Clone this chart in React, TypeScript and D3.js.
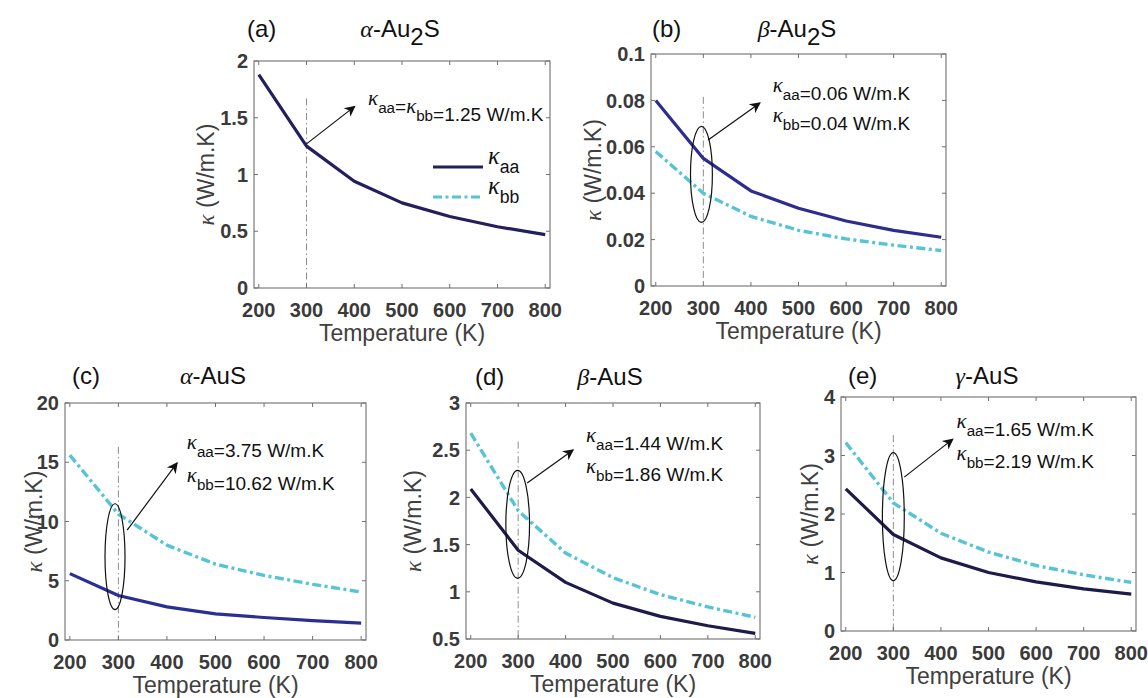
import React from "react";
import * as d3 from "d3";

// temperatures (K) shared by all panels
const temperature = [200, 300, 400, 500, 600, 700, 800];

// kappa values, W/m.K
const alphaAu2S_aa = [1.88, 1.25, 0.94, 0.75, 0.63, 0.54, 0.47];
const betaAu2S_aa = [0.08, 0.055, 0.041, 0.0335, 0.028, 0.024, 0.021];
const betaAu2S_bb = [0.058, 0.04, 0.03, 0.024, 0.0203, 0.0176, 0.0153];
const alphaAuS_aa = [5.6, 3.75, 2.8, 2.2, 1.9, 1.63, 1.42];
const alphaAuS_bb = [15.6, 10.62, 8.0, 6.4, 5.45, 4.7, 4.05];
const betaAuS_aa = [2.09, 1.44, 1.1, 0.88, 0.74, 0.64, 0.56];
const betaAuS_bb = [2.68, 1.86, 1.41, 1.15, 0.97, 0.84, 0.73];
const gammaAuS_aa = [2.43, 1.65, 1.25, 1.0, 0.84, 0.72, 0.63];
const gammaAuS_bb = [3.22, 2.19, 1.67, 1.35, 1.12, 0.96, 0.83];

// axis ticks
const xTicks = [200, 300, 400, 500, 600, 700, 800];
const yTicksA = [0, 0.5, 1, 1.5, 2];
const yTicksB = [0, 0.02, 0.04, 0.06, 0.08, 0.1];
const yTicksC = [0, 5, 10, 15, 20];
const yTicksD = [0.5, 1, 1.5, 2, 2.5, 3];
const yTicksE = [0, 1, 2, 3, 4];

const SANS = "'Liberation Sans', Arial, Helvetica, sans-serif";
const SERIF = "'Liberation Serif', 'Times New Roman', serif";
const CYAN = "#55c4d6";
const FRAME = "#707070";

const panels = [
  {
    tag: "(a)", greek: "α", formula: "Au", sub: "2", tail: "S",
    box: { left: 254, top: 61, right: 550, bottom: 288 },
    yDomain: [0, 2], yTicks: yTicksA, yLabelOff: 48,
    aa: alphaAu2S_aa, bb: null, aaColor: "#231f5c",
    tagX: 247, titleX: 400, titleY: 37,
    vline: 1.67, ellipse: null,
    arrow: [[300, 1.27], [401, 1.6]],
    note: { x: 429, y1: 1.612, y2: null, aa: "=", bb: "=1.25 W/m.K", same: true },
    legend: true,
  },
  {
    tag: "(b)", greek: "β", formula: "Au", sub: "2", tail: "S",
    box: { left: 651, top: 54, right: 946, bottom: 286 },
    yDomain: [0, 0.1], yTicks: yTicksB, yLabelOff: 58,
    aa: betaAu2S_aa, bb: betaAu2S_bb, aaColor: "#2c2d8f",
    tagX: 652, titleX: 797, titleY: 37,
    vline: 0.0815, ellipse: { cx: 296, cy: 0.0481, rx: 23, ry: 0.0207 },
    arrow: [[310, 0.0629], [419, 0.0789]],
    note: { x: 446, y1: 0.0836, y2: 0.0707, aa: "=0.06 W/m.K", bb: "=0.04 W/m.K" },
  },
  {
    tag: "(c)", greek: "α", formula: "AuS", sub: "", tail: "",
    box: { left: 65, top: 403, right: 366, bottom: 640 },
    yDomain: [0, 20], yTicks: yTicksC, yLabelOff: 31,
    aa: alphaAuS_aa, bb: alphaAuS_bb, aaColor: "#2b2f93",
    tagX: 72, titleX: 213, titleY: 384,
    vline: 16.3, ellipse: { cx: 293, cy: 7.03, rx: 20.6, ry: 4.47 },
    arrow: [[318, 9.28], [421, 14.94]],
    note: { x: 441, y1: 16.1, y2: 13.3, aa: "=3.75 W/m.K", bb: "=10.62 W/m.K" },
  },
  {
    tag: "(d)", greek: "β", formula: "AuS", sub: "", tail: "",
    box: { left: 466, top: 403, right: 760, bottom: 639 },
    yDomain: [0.5, 3], yTicks: yTicksD, yLabelOff: 53,
    aa: betaAuS_aa, bb: betaAuS_bb, aaColor: "#1e1a4a",
    tagX: 475, titleX: 610, titleY: 385,
    vline: 2.59, ellipse: { cx: 299, cy: 1.715, rx: 25, ry: 0.572 },
    arrow: [[319, 2.153], [416, 2.502]],
    note: { x: 443, y1: 2.587, y2: 2.258, aa: "=1.44 W/m.K", bb: "=1.86 W/m.K" },
  },
  {
    tag: "(e)", greek: "γ", formula: "AuS", sub: "", tail: "",
    box: { left: 841, top: 397, right: 1136, bottom: 631 },
    yDomain: [0, 4], yTicks: yTicksE, yLabelOff: 31,
    aa: gammaAuS_aa, bb: gammaAuS_bb, aaColor: "#1e1a4a",
    tagX: 848, titleX: 987, titleY: 384,
    vline: 3.35, ellipse: { cx: 300, cy: 1.954, rx: 23, ry: 1.094 },
    arrow: [[323, 2.63], [425, 3.28]],
    note: { x: 433, y1: 3.47, y2: 2.92, aa: "=1.65 W/m.K", bb: "=2.19 W/m.K" },
  },
];

function Kappa({ sub, size = 19 }: { sub: string; size?: number }) {
  const drop = Math.round(size * 0.4);
  return (
    <>
      <tspan fontFamily={SERIF} fontStyle="italic" fontSize={size * 1.1}>κ</tspan>
      <tspan dy={drop} fontSize={size * 0.8}>{sub}</tspan>
      <tspan dy={-drop}></tspan>
    </>
  );
}

function Panel({ p }: { p: any }) {
  const { left, top, right, bottom } = p.box;
  const x = d3.scaleLinear().domain([190, 810]).range([left, right]);
  const y = d3.scaleLinear().domain(p.yDomain).range([bottom, top]);
  const line = d3
    .line<number>()
    .x((_, i) => x(temperature[i]))
    .y((d) => y(d));
  const fmt = (v: number) => String(+v.toFixed(3));
  const note = p.note;

  return (
    <g>
      {/* titles */}
      <text x={p.tagX} y={p.titleY} fontFamily={SANS} fontSize={24} fill="#111">
        {p.tag}
      </text>
      <text x={p.titleX} y={p.titleY} textAnchor="middle" fontFamily={SANS} fontSize={24} fill="#111">
        <tspan fontFamily={SERIF} fontStyle="italic">{p.greek}</tspan>
        <tspan>-{p.formula}</tspan>
        {p.sub && <tspan dy={8}>{p.sub}</tspan>}
        {p.tail && <tspan dy={-8}>{p.tail}</tspan>}
      </text>

      {/* reference line at 300 K */}
      <line
        x1={x(300)} x2={x(300)} y1={y(p.vline)} y2={bottom}
        stroke="#8c8c8c" strokeWidth={1} strokeDasharray="7,3,1.5,3"
      />

      {/* series */}
      {p.bb && (
        <path d={line(p.bb) || ""} fill="none" stroke={CYAN} strokeWidth={3.4}
          strokeDasharray="9,3.5,3,3.5" />
      )}
      <path d={line(p.aa) || ""} fill="none" stroke={p.aaColor} strokeWidth={3.2}
        strokeLinejoin="round" />

      {/* frame and ticks */}
      <rect x={left} y={top} width={right - left} height={bottom - top}
        fill="none" stroke={FRAME} strokeWidth={1.1} />
      {xTicks.map((t) => (
        <g key={"x" + t}>
          <line x1={x(t)} x2={x(t)} y1={bottom} y2={bottom - 4} stroke={FRAME} />
          <line x1={x(t)} x2={x(t)} y1={top} y2={top + 4} stroke={FRAME} />
          <text x={x(t)} y={bottom + 29} textAnchor="middle" fontFamily={SANS}
            fontWeight="bold" fontSize={20} fill="#3a3a3a">{t}</text>
        </g>
      ))}
      {p.yTicks.map((t: number) => (
        <g key={"y" + t}>
          <line x1={left} x2={left + 4} y1={y(t)} y2={y(t)} stroke={FRAME} />
          <line x1={right} x2={right - 4} y1={y(t)} y2={y(t)} stroke={FRAME} />
          <text x={left - 6} y={y(t)} dy="0.36em" textAnchor="end" fontFamily={SANS}
            fontWeight="bold" fontSize={20} fill="#3a3a3a">{fmt(t)}</text>
        </g>
      ))}

      {/* axis labels */}
      <text x={(left + right) / 2} y={bottom + 53} textAnchor="middle" fontFamily={SANS}
        fontSize={23} fill="#404040">Temperature (K)</text>
      <text transform={`translate(${left - p.yLabelOff},${(top + bottom) / 2}) rotate(-90)`}
        dy="0.35em" textAnchor="middle" fontFamily={SANS} fontSize={23} fill="#404040">
        <tspan fontFamily={SERIF} fontStyle="italic">κ</tspan> (W/m.K)
      </text>

      {/* annotation */}
      {p.ellipse && (
        <ellipse cx={x(p.ellipse.cx)} cy={y(p.ellipse.cy)}
          rx={x(p.ellipse.cx + p.ellipse.rx) - x(p.ellipse.cx)}
          ry={y(p.ellipse.cy) - y(p.ellipse.cy + p.ellipse.ry)}
          fill="none" stroke="#111" strokeWidth={1.2} />
      )}
      <line x1={x(p.arrow[0][0])} y1={y(p.arrow[0][1])} x2={x(p.arrow[1][0])} y2={y(p.arrow[1][1])}
        stroke="#111" strokeWidth={1.2} markerEnd="url(#arrowhead)" />
      {note.same ? (
        <text x={x(note.x)} y={y(note.y1)} fontFamily={SANS} fontSize={19} fill="#111">
          <Kappa sub="aa" />
          <tspan>=</tspan>
          <Kappa sub="bb" />
          <tspan>{note.bb}</tspan>
        </text>
      ) : (
        <>
          <text x={x(note.x)} y={y(note.y1)} fontFamily={SANS} fontSize={19} fill="#111">
            <Kappa sub="aa" />
            <tspan>{note.aa}</tspan>
          </text>
          <text x={x(note.x)} y={y(note.y2)} fontFamily={SANS} fontSize={19} fill="#111">
            <Kappa sub="bb" />
            <tspan>{note.bb}</tspan>
          </text>
        </>
      )}

      {/* legend (panel a only) */}
      {p.legend && (
        <g>
          <line x1={left + 179} x2={left + 229} y1={top + 106} y2={top + 106}
            stroke={p.aaColor} strokeWidth={3.2} />
          <line x1={left + 179} x2={left + 229} y1={top + 136} y2={top + 136}
            stroke={CYAN} strokeWidth={3.2} strokeDasharray="9,3.5,3,3.5" />
          <text x={left + 234} y={top + 103} fontFamily={SANS} fontSize={22} fill="#111">
            <Kappa sub="aa" size={22} />
          </text>
          <text x={left + 234} y={top + 133} fontFamily={SANS} fontSize={22} fill="#111">
            <Kappa sub="bb" size={22} />
          </text>
        </g>
      )}
    </g>
  );
}

export default function App() {
  return (
    <svg width={1148} height={698} style={{ position: "absolute", left: 0, top: 0, background: "#fff" }}>
      <defs>
        <marker id="arrowhead" viewBox="0 0 10 10" refX={9} refY={5} markerWidth={15}
          markerHeight={11} markerUnits="userSpaceOnUse" orient="auto">
          <path d="M0,0 L10,5 L0,10 L3,5 z" fill="#111" />
        </marker>
      </defs>
      <rect width={1148} height={698} fill="#fff" />
      {panels.map((p) => (
        <Panel key={p.tag} p={p} />
      ))}
    </svg>
  );
}
